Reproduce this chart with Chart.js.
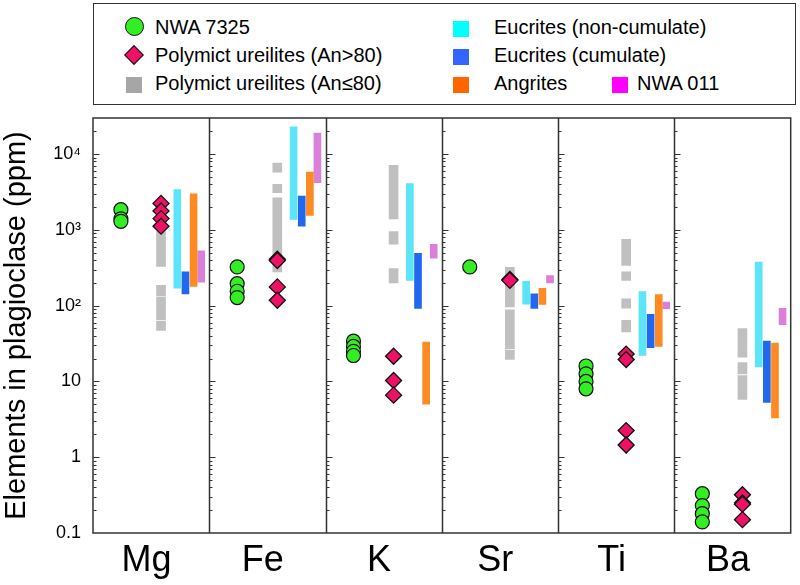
<!DOCTYPE html>
<html>
<head>
<meta charset="utf-8">
<script src="https://cdn.jsdelivr.net/npm/chart.js@4/dist/chart.umd.min.js"></script>
<style>
  html, body { margin: 0; padding: 0; background: #fff; }
  #wrap { position: relative; width: 800px; height: 585px; font-family: 'Liberation Sans', Arial, sans-serif; }
  #chartBox { position: absolute; left: 0; top: 0; width: 800px; height: 585px; }
  #legendBox { position: absolute; left: 93px; top: 3px; width: 703px; height: 102px; box-sizing: border-box; border: 1.5px solid #333; background: #fff; }
  .lg-text { position: absolute; font-size: 20px; line-height: 24px; color: #000; white-space: nowrap; }
  .lg-mark { position: absolute; box-sizing: border-box; }
</style>
</head>
<body>
<div id="wrap">
  <div id="chartBox"><canvas id="c"></canvas></div>
  <div id="legendBox"></div>
</div>
<script>
// ---------- data (ppm) ----------
const elements = ['Mg', 'Fe', 'K', 'Sr', 'Ti', 'Ba'];

// NWA 7325 plagioclase analyses (points)
const nwa7325 = [
  [1850, 1400, 1300],
  [325, 195, 155, 128],
  [34, 29, 25, 22],
  [325],
  [16, 12.6, 10, 8],
  [0.33, 0.23, 0.18, 0.14]
];

// Polymict ureilites, An>80 (points)
const ureilitesHighAn = [
  [2240, 1780, 1410, 1120],
  [410, 395, 177, 118],
  [21.5, 10.3, 6.6],
  [222, 216],
  [23, 19.5, 2.25, 1.45],
  [0.32, 0.25, 0.24, 0.15]
];

// Polymict ureilites, An<=80 (ranges, several per element)
const ureilitesLowAn = [
  [[330, 1100], [135, 185], [65, 130], [47, 62]],
  [[5800, 7600], [3100, 4000], [280, 2650]],
  [[1400, 7100], [650, 950], [200, 310]],
  [[96, 320], [27, 88], [19.5, 26]],
  [[340, 750], [215, 280], [93, 123], [45, 64]],
  [[21, 50], [12.6, 17.8], [5.8, 12]]
];

// Literature ranges [min, max]
const eucritesNonCumulate = [[170, 3400], [1380, 23000], [215, 4100], [105, 210], [22, 153], [15.5, 375]];
const eucritesCumulate    = [[143, 280], [1120, 2800], [92, 490], [92, 143], [28, 77], [5.3, 34]];
const angrites            = [[180, 3000], [1550, 5800], [5, 33], [104, 170], [29, 140], [3.3, 32]];
const nwa011              = [[205, 530], [4200, 19000], [425, 645], [200, 250], [91, 112], [56, 92]];

const yTickValues = [0.1, 1, 10, 100, 1000, 10000];
const yTickLabels = ['0.1', '1', '10', '10²', '10³', '10⁴'];

// ---------- layout / style (not data) ----------
const slot = { nwa: 0.24, ure: 0.585, euc: 0.725, cum: 0.795, ang: 0.865, n011: 0.93, label: 0.46 };
const FONT = "'Liberation Sans', Arial, sans-serif";

function pointsFrom(arr, off) {
  const out = [];
  arr.forEach((vals, i) => vals.forEach(v => out.push({ x: i + off, y: v })));
  return out;
}
function rangesFrom(arr, off) {
  return arr.map((r, i) => ({ x: i + off, y: [r[0], r[1]] }));
}
function multiRangesFrom(arr, off) {
  const out = [];
  arr.forEach((list, i) => list.forEach(r => out.push({ x: i + off, y: [r[0], r[1]] })));
  return out;
}

const framePlugin = {
  id: 'frame',
  beforeDatasetsDraw(chart) {
    const { ctx, chartArea: a, scales } = chart;
    const x = scales.x, y = scales.y;
    ctx.save();
    ctx.strokeStyle = '#333';
    ctx.lineWidth = 1.5;
    ctx.strokeRect(a.left, a.top, a.right - a.left, a.bottom - a.top);
    for (let i = 1; i < elements.length; i++) {
      const px = Math.round(x.getPixelForValue(i)) + 0.5;
      ctx.beginPath(); ctx.moveTo(px, a.top); ctx.lineTo(px, a.bottom); ctx.stroke();
    }
    ctx.lineWidth = 1;
    for (let i = 0; i < elements.length; i++) {
      const px = Math.round(x.getPixelForValue(i)) + 0.5;
      for (let e = -1; e <= 4; e++) {
        for (let d = 1; d <= 9; d++) {
          const v = d * Math.pow(10, e);
          if (v <= y.min * 1.0001 || v >= y.max) continue;
          const py = Math.round(y.getPixelForValue(v)) + 0.5;
          const len = d === 1 ? 6 : 3;
          ctx.beginPath(); ctx.moveTo(px, py); ctx.lineTo(px + len, py); ctx.stroke();
        }
      }
    }
    ctx.restore();
  }
};

const barCommon = { type: 'bar', grouped: false, borderWidth: 0, order: 2 };

new Chart(document.getElementById('c'), {
  type: 'scatter',
  data: {
    datasets: [
      Object.assign({}, barCommon, { label: 'Polymict ureilites (An≤80)', data: multiRangesFrom(ureilitesLowAn, slot.ure), backgroundColor: '#c0c0c0', barThickness: 9 }),
      Object.assign({}, barCommon, { label: 'Eucrites (non-cumulate)', data: rangesFrom(eucritesNonCumulate, slot.euc), backgroundColor: '#5ce4f8', barThickness: 7 }),
      Object.assign({}, barCommon, { label: 'Eucrites (cumulate)', data: rangesFrom(eucritesCumulate, slot.cum), backgroundColor: '#2268ee', barThickness: 7 }),
      Object.assign({}, barCommon, { label: 'Angrites', data: rangesFrom(angrites, slot.ang), backgroundColor: '#fd8a22', barThickness: 7 }),
      Object.assign({}, barCommon, { label: 'NWA 011', data: rangesFrom(nwa011, slot.n011), backgroundColor: '#da80da', barThickness: 7 }),
      { type: 'scatter', label: 'Polymict ureilites (An>80)', data: pointsFrom(ureilitesHighAn, slot.ure), pointStyle: 'rectRot', pointRadius: 8, backgroundColor: '#ee1166', borderColor: '#111', borderWidth: 1.3, order: 1 },
      { type: 'scatter', label: 'NWA 7325', data: pointsFrom(nwa7325, slot.nwa), pointStyle: 'circle', pointRadius: 7, backgroundColor: '#33ee22', borderColor: '#111', borderWidth: 1.2, order: 0 }
    ]
  },
  options: {
    responsive: true,
    maintainAspectRatio: false,
    animation: false,
    devicePixelRatio: 1,
    layout: { padding: { top: 118, right: 4, left: 0, bottom: 0 } },
    plugins: { legend: { display: false }, tooltip: { enabled: false } },
    scales: {
      x: {
        type: 'linear', min: 0, max: elements.length, offset: false,
        grid: { display: false, drawTicks: false },
        border: { display: false },
        afterBuildTicks: s => { s.ticks = elements.map((e, i) => ({ value: i + slot.label })); },
        afterFit: s => { s.height = 52; },
        ticks: {
          autoSkip: false, maxRotation: 0, padding: 6, color: '#000',
          font: { family: FONT, size: 36 },
          callback: (v, i) => elements[i]
        }
      },
      y: {
        type: 'logarithmic', min: 0.1, max: 30000,
        grid: { display: false, drawTicks: false },
        border: { display: false },
        afterBuildTicks: s => { s.ticks = yTickValues.map(v => ({ value: v })); },
        afterFit: s => { s.width = 93; },
        ticks: {
          autoSkip: false, padding: 12, color: '#000',
          font: { family: FONT, size: 18 },
          callback: (v, i) => yTickLabels[i]
        },
        title: {
          display: true, text: 'Elements in plagioclase (ppm)', color: '#000',
          font: { family: FONT, size: 29 }, padding: { top: 0, bottom: 0 }
        }
      }
    }
  },
  plugins: [framePlugin]
});

// ---------- HTML legend ----------
const legendItems = [
  { text: 'NWA 7325', tx: 155, cy: 26.5, mark: { cx: 134, w: 19, h: 19, bg: '#33ee22', round: true, border: '1px solid #111' } },
  { text: 'Polymict ureilites (An>80)', tx: 155, cy: 55, mark: { cx: 134, w: 14, h: 14, bg: '#ee1166', rot: true, border: '1px solid #111' } },
  { text: 'Polymict ureilites (An≤80)', tx: 155, cy: 83, mark: { cx: 134, w: 16, h: 16, bg: '#a6a6a6', dy: 2 } },
  { text: 'Eucrites (non-cumulate)', tx: 494, cy: 26.5, mark: { cx: 461, w: 16, h: 16, bg: '#00ffff', dy: 2 } },
  { text: 'Eucrites (cumulate)', tx: 494, cy: 55, mark: { cx: 461, w: 16, h: 16, bg: '#3366ff', dy: 2 } },
  { text: 'Angrites', tx: 494, cy: 83, mark: { cx: 461, w: 16, h: 16, bg: '#ff6600', dy: 2 } },
  { text: 'NWA 011', tx: 637, cy: 83, mark: { cx: 620, w: 16, h: 16, bg: '#ff00ff', dy: 2 } }
];
const wrap = document.getElementById('wrap');
legendItems.forEach(it => {
  const m = it.mark;
  const d = document.createElement('div');
  d.className = 'lg-mark';
  d.style.left = (m.cx - m.w / 2) + 'px';
  d.style.top = (it.cy + (m.dy || 0) - m.h / 2) + 'px';
  d.style.width = m.w + 'px';
  d.style.height = m.h + 'px';
  d.style.background = m.bg;
  if (m.border) d.style.border = m.border;
  if (m.round) d.style.borderRadius = '50%';
  if (m.rot) d.style.transform = 'rotate(45deg)';
  wrap.appendChild(d);
  const t = document.createElement('div');
  t.className = 'lg-text';
  t.style.left = it.tx + 'px';
  t.style.top = (it.cy - 12) + 'px';
  t.textContent = it.text;
  wrap.appendChild(t);
});
</script>
</body>
</html>
